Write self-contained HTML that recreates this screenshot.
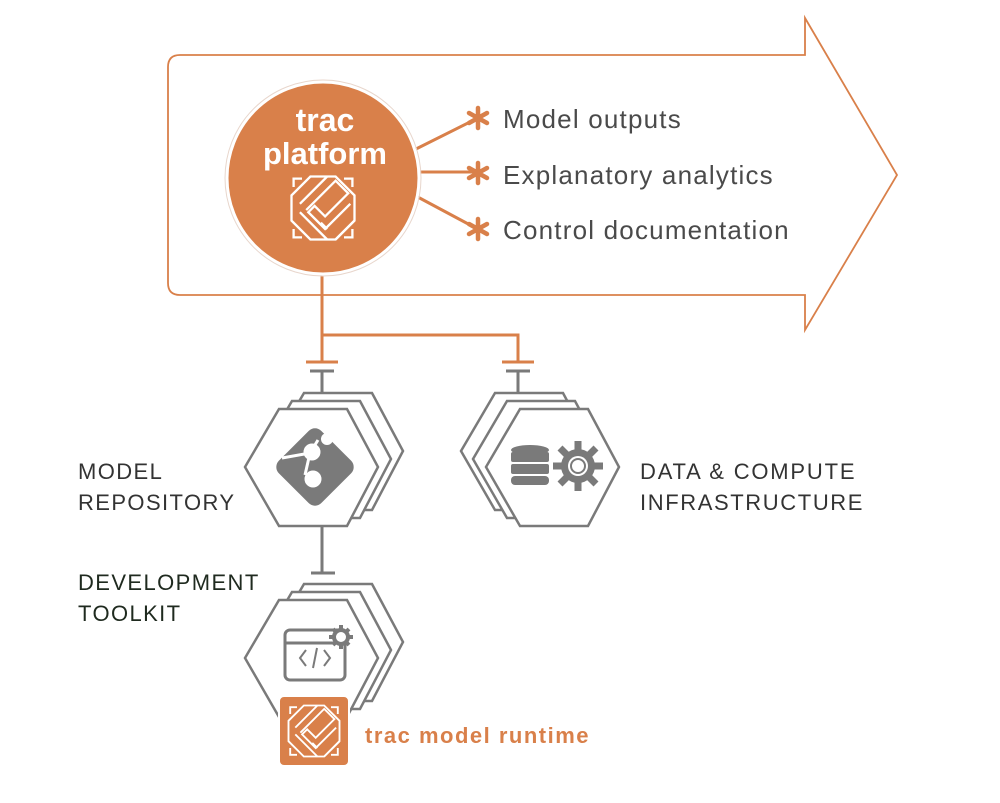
<!DOCTYPE html>
<html><head><meta charset="utf-8"><style>
html,body{margin:0;padding:0;background:#fff;}
svg{display:block;}
text{font-family:"Liberation Sans",sans-serif;}
</style></head><body>
<svg width="1000" height="803" viewBox="0 0 1000 803" xmlns="http://www.w3.org/2000/svg">
<defs>
<g id="logo" fill="none" stroke="#fff" stroke-width="2.2" stroke-linejoin="miter">
  <path d="M-28,-20 V-28 H-20 M20,-28 H28 V-20 M28,20 V28 H20 M-20,28 H-28 V20"/>
  <path d="M-12,-30 L12,-30 L30,-12 L30,12 L12,30 L-12,30 L-30,12 L-30,-12 Z"/>
  <path d="M-22,-4 L4,-30 M-16,2 L12,-26 L24,-14 L2,8 L-8,-2 L-14,4 L2,20 L26,-4"/>
  <path d="M-22,4 L4,30 M4,20 L-2,14 M12,30 L30,12"/>
</g>
<g id="hexf"><polygon points="-70,0 -36,-58 32,-58 63,0 32,59 -36,59" fill="#fff" stroke="#7a7a7a" stroke-width="2.5"/></g>
</defs>

<path d="M180,55 H805 V18 L897,175 L805,330 V295 H180 Q168,295 168,283 V67 Q168,55 180,55 Z" fill="#fff" stroke="#d9804a" stroke-width="1.8"/>

<g stroke="#d9804a" stroke-width="3" fill="none">
  <path d="M322,268 V362 M322,335 H518 V362"/>
  <path d="M306,362 H338 M502,362 H534"/>
  <path d="M414,150 L472,121 M418,172 L474,172 M414,195 L472,226"/>
</g>
<g stroke="#7a7a7a" stroke-width="3" fill="none">
  <path d="M310,371 H334 M322,371 V394"/>
  <path d="M506,371 H530 M518,371 V394"/>
  <path d="M322,527 V573 M311,573 H335"/>
</g>

<circle cx="323" cy="178" r="96" fill="#d9804a" stroke="#fff" stroke-width="3"/>
<circle cx="323" cy="178" r="98" fill="none" stroke="#e8d6cc" stroke-width="1"/>
<text x="325" y="131" font-size="32" font-weight="bold" fill="#fff" text-anchor="middle">trac</text>
<text x="325" y="164" font-size="31" font-weight="bold" fill="#fff" text-anchor="middle">platform</text>
<use href="#logo" transform="translate(323,208) scale(1.05)"/>

<g stroke="#d9804a" stroke-width="4.5" stroke-linecap="round">
  <g transform="translate(478,118)"><path d="M0,-10V10M-9,-5L9,5M-9,5L9,-5"/></g>
  <g transform="translate(478,173)"><path d="M0,-10V10M-9,-5L9,5M-9,5L9,-5"/></g>
  <g transform="translate(478,229)"><path d="M0,-10V10M-9,-5L9,5M-9,5L9,-5"/></g>
</g>
<g font-size="26" fill="#4a4a4a" letter-spacing="1.2">
  <text x="503" y="128">Model outputs</text>
  <text x="503" y="184">Explanatory analytics</text>
  <text x="503" y="239">Control documentation</text>
</g>

<use href="#hexf" transform="translate(340,451)"/>
<use href="#hexf" transform="translate(328,459)"/>
<use href="#hexf" transform="translate(315,467)"/>
<g transform="translate(315,467) rotate(-45)">
  <rect x="-30" y="-30" width="60" height="60" rx="9" fill="#7a7a7a"/>
</g>
<g fill="#fff" stroke="#fff" stroke-width="3">
  <path d="M282,458 L310,453 L305,475 M310,453 L318,440" fill="none"/>
  <circle cx="312" cy="452" r="7"/><circle cx="327" cy="439" r="6" stroke="none"/><circle cx="313" cy="479" r="7"/>
</g>

<use href="#hexf" transform="translate(531,451)"/>
<use href="#hexf" transform="translate(543,459)"/>
<use href="#hexf" transform="translate(556,467)"/>
<g fill="#7a7a7a">
  <ellipse cx="530" cy="450" rx="19" ry="5"/>
  <rect x="511" y="452" width="38" height="10" rx="2"/>
  <rect x="511" y="464" width="38" height="10" rx="2"/>
  <rect x="511" y="476" width="38" height="9" rx="4"/>
  <circle cx="578" cy="466" r="17"/>
  <g stroke="#7a7a7a" stroke-width="7">
    <path d="M578,441V491M553,466H603M560,448L596,484M596,448L560,484"/>
  </g>
  <circle cx="578" cy="466" r="10" fill="#fff"/>
  <circle cx="578" cy="466" r="7" fill="none" stroke="#7a7a7a" stroke-width="2"/>
</g>

<use href="#hexf" transform="translate(340,642)"/>
<use href="#hexf" transform="translate(328,650)"/>
<use href="#hexf" transform="translate(315,658)"/>
<rect x="285" y="630" width="60" height="50" rx="5" fill="#fff" stroke="#7a7a7a" stroke-width="3"/>
<path d="M285,643H345" stroke="#7a7a7a" stroke-width="3"/>
<path d="M306,650 L300,658 L306,666 M324,650 L330,658 L324,666 M317,648 L313,668" fill="none" stroke="#7a7a7a" stroke-width="2"/>
<g fill="#7a7a7a">
  <circle cx="341" cy="637" r="9"/>
  <g stroke="#7a7a7a" stroke-width="4"><path d="M341,625V649M329,637H353M333,629L349,645M349,629L333,645"/></g>
  <circle cx="341" cy="637" r="5" fill="#fff"/>
</g>

<rect x="279" y="696" width="70" height="70" rx="5" fill="#d9804a" stroke="#fff" stroke-width="2"/>
<use href="#logo" transform="translate(314,731) scale(0.85)"/>
<text x="365" y="743" font-size="22" font-weight="bold" fill="#d9804a" letter-spacing="1.5">trac model runtime</text>

<g font-size="22" fill="#333" letter-spacing="1.4">
  <text x="78" y="479">MODEL</text>
  <text x="78" y="510">REPOSITORY</text>
  <text x="640" y="479" letter-spacing="1.8">DATA &amp; COMPUTE</text>
  <text x="640" y="510" letter-spacing="1.6">INFRASTRUCTURE</text>
  <text x="78" y="590" fill="#1f2a1f">DEVELOPMENT</text>
  <text x="78" y="621" fill="#1f2a1f">TOOLKIT</text>
</g>
</svg>
</body></html>
